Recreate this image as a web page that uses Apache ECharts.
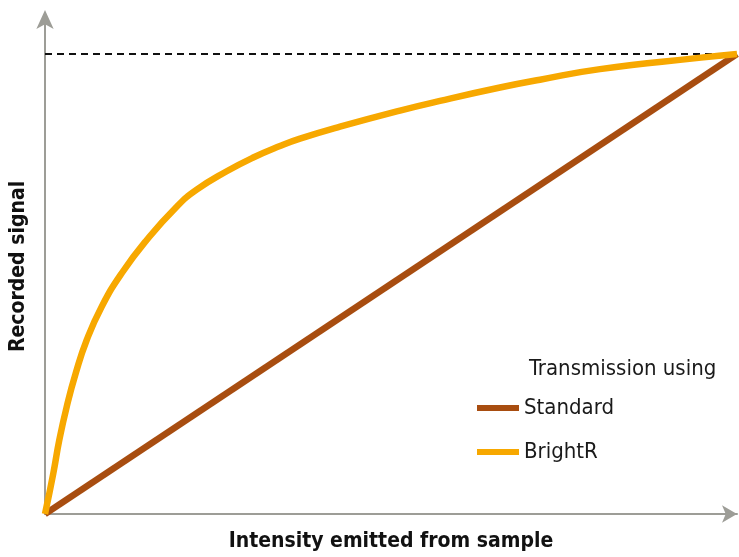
<!DOCTYPE html>
<html>
<head>
<meta charset="utf-8">
<script src="https://cdn.jsdelivr.net/npm/echarts@6/dist/echarts.min.js"></script>
<style>
html,body{margin:0;padding:0;background:#fff;}
#chart{width:739px;height:557px;}
</style>
</head>
<body>
<div id="chart"></div>
<script>
// Data (normalized intensity vs recorded signal)
const standardX = [0, 1];
const standardY = [0, 1];
const brightX = [0, 0.0120, 0.0207, 0.0314, 0.0444, 0.0603, 0.0819, 0.1108, 0.1470, 0.1903, 0.2192, 0.2626, 0.3010, 0.3396, 0.3685, 0.4263, 0.5130, 0.5708, 0.6575, 0.7153, 0.8020, 0.9480, 1];
const brightY = [0, 0.0885, 0.1609, 0.2333, 0.3059, 0.3783, 0.4507, 0.5233, 0.5957, 0.6680, 0.7050, 0.745, 0.775, 0.800, 0.816, 0.842, 0.877, 0.898, 0.927, 0.944, 0.967, 0.992, 1];
const saturationX = [0, 1];
const saturationY = [1, 1];
const seriesNames = ['Standard', 'BrightR'];
const legendTitle = 'Transmission using';
const xTitle = 'Intensity emitted from sample';
const yTitle = 'Recorded signal';

const FONT = "'Liberation Sans Narrow', 'Arial Narrow', 'DejaVu Sans Condensed', sans-serif";
const zip = (xs, ys) => xs.map((x, i) => [x, ys[i]]);

const chart = echarts.init(document.getElementById('chart'));
chart.setOption({
  animation: false,
  backgroundColor: '#fff',
  title: {
    text: legendTitle,
    left: 524, top: 353,
    textStyle: {fontFamily: FONT, fontSize: 22, fontWeight: 'normal', color: '#1a1a1a'}
  },
  legend: {
    data: seriesNames,
    orient: 'vertical',
    left: 472, top: 392,
    itemWidth: 42, itemHeight: 6,
    itemGap: 22,
    icon: 'rect',
    textStyle: {fontFamily: FONT, fontSize: 22, color: '#1a1a1a'}
  },
  grid: {left: 45, right: 2, top: 19, bottom: 43, outerBoundsMode: 'none', containLabel: false},
  xAxis: {
    type: 'value', min: 0, max: 1,
    name: xTitle, nameLocation: 'middle', nameGap: 17,
    nameTextStyle: {fontFamily: FONT, fontSize: 21, fontWeight: 'bold', color: '#111'},
    axisLine: {show: true, symbol: ['none', 'arrow'], symbolSize: [13, 15], symbolOffset: [0, 0],
      lineStyle: {color: '#9d9d97', width: 2}},
    axisTick: {show: false}, axisLabel: {show: false}, splitLine: {show: false}
  },
  yAxis: {
    type: 'value', min: 0, max: 1.076,
    name: yTitle, nameLocation: 'middle', nameGap: 16,
    nameTextStyle: {fontFamily: FONT, fontSize: 21, fontWeight: 'bold', color: '#111'},
    axisLine: {show: true, symbol: ['none', 'arrow'], symbolSize: [13, 19], symbolOffset: [0, 9],
      lineStyle: {color: '#9d9d97', width: 2}},
    axisTick: {show: false}, axisLabel: {show: false}, splitLine: {show: false}
  },
  series: [
    {
      name: 'saturation', type: 'line', data: zip(saturationX, saturationY),
      showSymbol: false, silent: true, z: 1,
      lineStyle: {color: '#111', width: 2, type: [7, 5]}
    },
    {
      name: seriesNames[0], type: 'line', data: zip(standardX, standardY),
      showSymbol: false, z: 2, color: '#a84d10',
      lineStyle: {color: '#a84d10', width: 6.5}
    },
    {
      name: seriesNames[1], type: 'line', data: zip(brightX, brightY),
      showSymbol: false, z: 3, color: '#f7a800', smooth: 0.5,
      lineStyle: {color: '#f7a800', width: 6.5}
    }
  ]
});
</script>
</body>
</html>
